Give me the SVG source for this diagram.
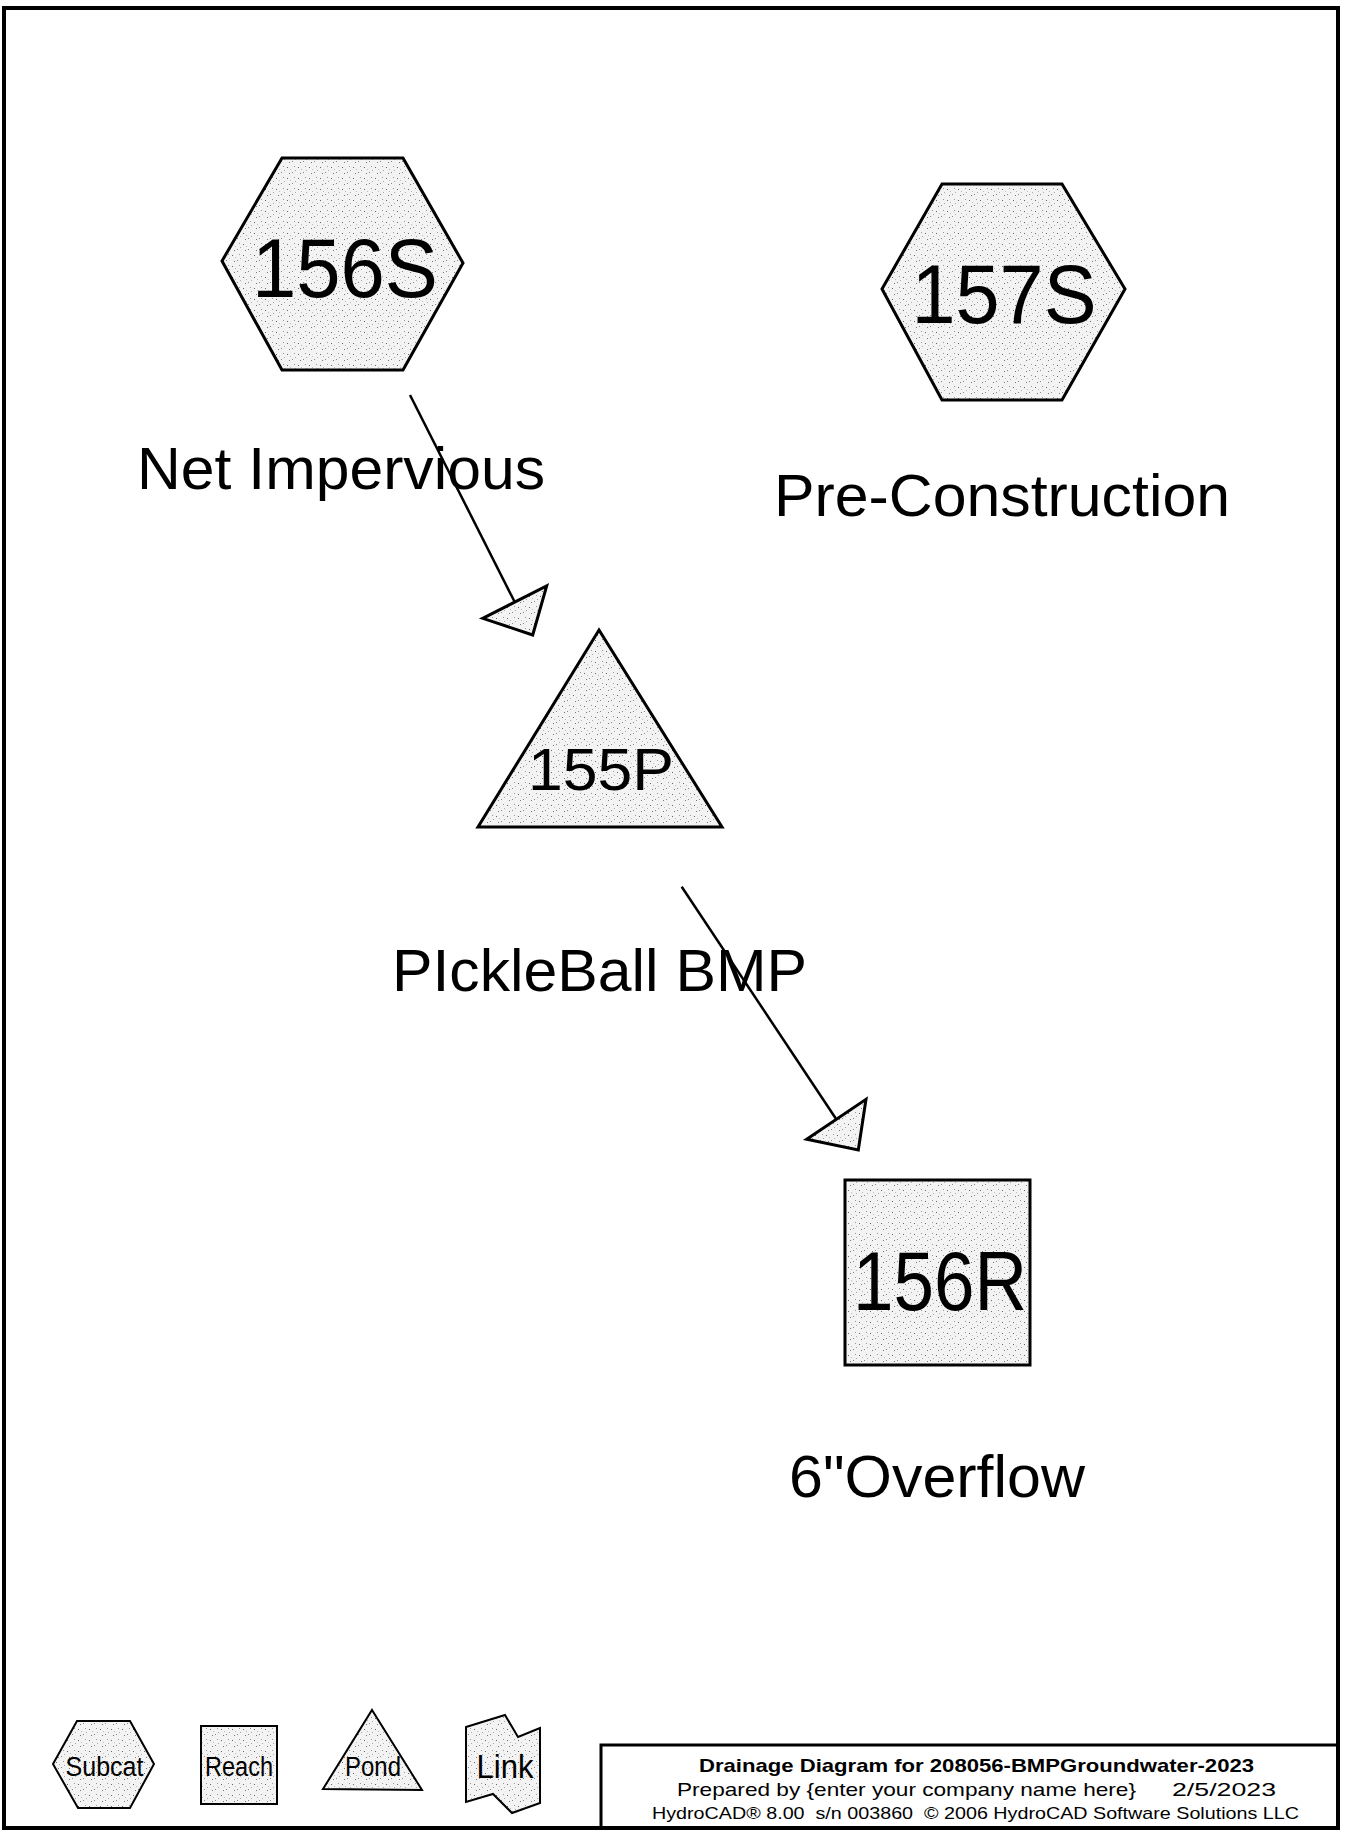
<svg xmlns="http://www.w3.org/2000/svg" width="1345" height="1833" viewBox="0 0 1345 1833">
<defs>
<pattern id="stip" width="11" height="11" patternUnits="userSpaceOnUse">
<rect width="11" height="11" fill="#f3f3f3"/>
<rect x="1" y="2" width="1" height="1" fill="#666"/>
<rect x="6" y="7" width="1" height="1" fill="#888"/>
<rect x="8" y="1" width="1" height="1" fill="#999"/>
<rect x="3" y="8" width="1" height="1" fill="#777"/>
<rect x="9" y="5" width="1" height="1" fill="#aaa"/>
<rect x="4" y="4" width="1" height="1" fill="#bbb"/>
</pattern>
</defs>
<style>
.node{fill:url(#stip);stroke:#000;stroke-width:3;stroke-linejoin:miter}
.leg{fill:url(#stip);stroke:#000;stroke-width:2}
.id{font-family:"Liberation Sans",Arial,sans-serif;fill:#000;text-anchor:middle}
.lbl{font-family:"Liberation Sans",Arial,sans-serif;font-size:60px;fill:#000}
.conn{stroke:#000;stroke-width:2.5;fill:none}
.head{fill:url(#stip);stroke:#000;stroke-width:3;stroke-linejoin:miter}
.ttl{font-family:"Liberation Sans",Arial,sans-serif;fill:#000;white-space:pre}
</style>
<rect x="0" y="0" width="1345" height="1833" fill="#fff"/>
<rect id="frame" x="4" y="8" width="1334" height="1820" fill="none" stroke="#000" stroke-width="4"/>

<g id="connectors">
<line class="conn" x1="410" y1="395" x2="514.7" y2="602"/>
<polygon class="head" points="482.7,618.3 546.7,586 532.7,635"/>
<line class="conn" x1="681.7" y1="886.7" x2="836.3" y2="1119.3"/>
<polygon class="head" points="806.7,1139.3 866,1099.3 858.3,1150"/>
</g>

<g id="node-156S">
<polygon class="node" points="282,158 403,158 463,263 403,370 282,370 222,261"/>
<text class="id" x="345" y="297" font-size="84" textLength="186" lengthAdjust="spacingAndGlyphs">156S</text>
<text class="lbl" x="137" y="489" textLength="408" lengthAdjust="spacingAndGlyphs">Net Impervious</text>
</g>

<g id="node-157S">
<polygon class="node" points="942,184 1062,184 1125,289 1062,400 942,400 882,289"/>
<text class="id" x="1004" y="323" font-size="84" textLength="185" lengthAdjust="spacingAndGlyphs">157S</text>
<text class="lbl" x="774" y="516" textLength="456" lengthAdjust="spacingAndGlyphs">Pre-Construction</text>
</g>

<g id="node-155P">
<polygon class="node" points="599,630 722,827 478,827"/>
<text class="id" x="601" y="790" font-size="60" textLength="146" lengthAdjust="spacingAndGlyphs">155P</text>
<text class="lbl" x="392" y="991" textLength="415" lengthAdjust="spacingAndGlyphs">PIckleBall BMP</text>
</g>

<g id="node-156R">
<rect class="node" x="845" y="1180" width="185" height="185"/>
<text class="id" x="940" y="1310" font-size="84" textLength="174" lengthAdjust="spacingAndGlyphs">156R</text>
<text class="lbl" x="789" y="1497" textLength="296" lengthAdjust="spacingAndGlyphs">6"Overflow</text>
</g>

<g id="legend-subcat">
<polygon class="leg" points="77,1721 130,1721 154,1764 130,1808 78,1808 53,1764"/>
<text class="id" x="104.5" y="1776" font-size="27" textLength="78" lengthAdjust="spacingAndGlyphs">Subcat</text>
</g>
<g id="legend-reach">
<rect class="leg" x="201" y="1726" width="76" height="78"/>
<text class="id" x="239" y="1776" font-size="27" textLength="68" lengthAdjust="spacingAndGlyphs">Reach</text>
</g>
<g id="legend-pond">
<polygon class="leg" points="372,1710 422,1790 323,1789"/>
<text class="id" x="373" y="1776" font-size="27" textLength="56" lengthAdjust="spacingAndGlyphs">Pond</text>
</g>
<g id="legend-link">
<polygon class="leg" points="466,1727 505,1715 518,1737 540,1728 540,1803 512,1813 493,1794 466,1802"/>
<text class="id" x="505" y="1778" font-size="33" textLength="57" lengthAdjust="spacingAndGlyphs">Link</text>
</g>

<g id="title-block">
<rect x="601" y="1745" width="737" height="83" fill="none" stroke="#000" stroke-width="3"/>
<text class="ttl" x="699" y="1772" font-size="19" font-weight="bold" textLength="555" lengthAdjust="spacingAndGlyphs">Drainage Diagram for 208056-BMPGroundwater-2023</text>
<text class="ttl" x="677" y="1796" font-size="19" textLength="459" lengthAdjust="spacingAndGlyphs">Prepared by {enter your company name here}</text>
<text class="ttl" x="1172" y="1796" font-size="19" textLength="104" lengthAdjust="spacingAndGlyphs">2/5/2023</text>
<text class="ttl" x="652" y="1819" font-size="17" textLength="647" lengthAdjust="spacingAndGlyphs">HydroCAD® 8.00  s/n 003860  © 2006 HydroCAD Software Solutions LLC</text>
</g>
</svg>
